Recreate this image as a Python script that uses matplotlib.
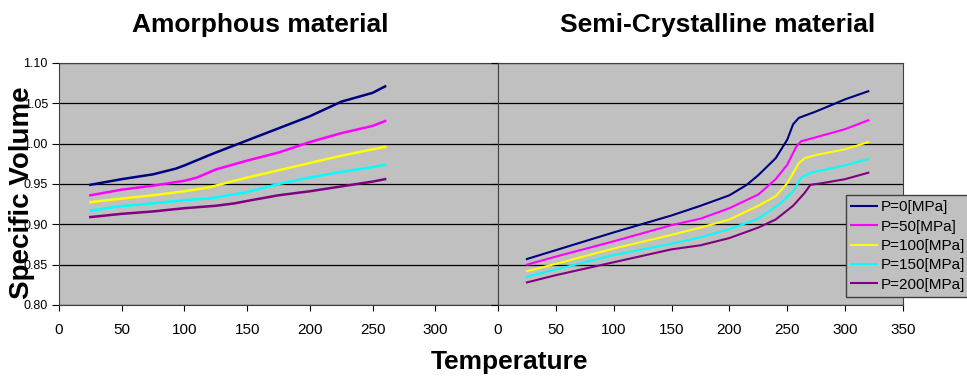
import matplotlib
matplotlib.use('Agg')
import matplotlib.pyplot as plt

plt.rcParams['font.family'] = ['Liberation Sans', 'DejaVu Sans']

labels = ['P=0[MPa]', 'P=50[MPa]', 'P=100[MPa]', 'P=150[MPa]', 'P=200[MPa]']
colors = ['#000080', '#FF00FF', '#FFFF00', '#00FFFF', '#800080']

# amorphous material
amo_t = [
    [25, 50, 75, 93, 100, 117, 125, 150, 175, 200, 225, 250, 260],
    [25, 50, 75, 100, 110, 125, 150, 175, 200, 225, 250, 260],
    [25, 50, 75, 100, 120, 150, 175, 200, 225, 250, 260],
    [25, 50, 75, 100, 120, 150, 175, 200, 225, 250, 260],
    [25, 50, 75, 100, 125, 140, 150, 175, 200, 225, 250, 260],
]
amo_v = [
    [0.949, 0.956, 0.962, 0.969, 0.973, 0.984, 0.989, 1.004, 1.019, 1.034, 1.052, 1.063, 1.071],
    [0.936, 0.943, 0.948, 0.954, 0.958, 0.968, 0.979, 0.989, 1.002, 1.013, 1.022, 1.028],
    [0.9275, 0.932, 0.936, 0.941, 0.946, 0.958, 0.967, 0.976, 0.985, 0.993, 0.996],
    [0.917, 0.9226, 0.926, 0.930, 0.932, 0.940, 0.950, 0.958, 0.965, 0.971, 0.974],
    [0.909, 0.913, 0.916, 0.920, 0.923, 0.926, 0.929, 0.936, 0.941, 0.947, 0.953, 0.956],
]

# semi-crystalline material
sc_t = [
    [25, 50, 100, 150, 175, 200, 215, 225, 240, 250, 255, 260, 275, 300, 320],
    [25, 50, 100, 150, 175, 200, 225, 240, 250, 258, 262, 275, 300, 320],
    [25, 50, 100, 150, 175, 200, 225, 240, 250, 260, 265, 275, 300, 320],
    [25, 50, 100, 150, 175, 200, 225, 245, 255, 262, 270, 300, 320],
    [25, 50, 100, 150, 175, 200, 225, 240, 255, 265, 270, 280, 300, 320],
]
sc_v = [
    [0.857, 0.868, 0.890, 0.911, 0.923, 0.936, 0.949, 0.961, 0.982, 1.005, 1.024, 1.032, 1.040, 1.055, 1.065],
    [0.850, 0.860, 0.879, 0.899, 0.907, 0.920, 0.937, 0.956, 0.974, 0.997, 1.003, 1.008, 1.018, 1.029],
    [0.842, 0.851, 0.870, 0.887, 0.896, 0.906, 0.923, 0.935, 0.951, 0.976, 0.982, 0.986, 0.993, 1.002],
    [0.835, 0.844, 0.862, 0.876, 0.884, 0.894, 0.907, 0.927, 0.941, 0.958, 0.964, 0.973, 0.981],
    [0.828, 0.837, 0.853, 0.869, 0.874, 0.883, 0.896, 0.906, 0.923, 0.939, 0.949, 0.951, 0.956, 0.964],
]

yticks = [0.80, 0.85, 0.90, 0.95, 1.00, 1.05, 1.10]

fig = plt.figure(figsize=(9.67, 3.76), dpi=100)
W, H = 967, 376
ax1 = fig.add_axes([59 / W, 1 - 305 / H, (498 - 59) / W, (305 - 63) / H])
ax2 = fig.add_axes([498 / W, 1 - 305 / H, (903 - 498) / W, (305 - 63) / H])

for ax in (ax1, ax2):
    ax.set_facecolor('#C0C0C0')
    ax.set_xlim(0, 350)
    ax.set_ylim(0.80, 1.10)
    ax.set_yticks(yticks)
    ax.grid(axis='y', color='black', linewidth=0.9)
    ax.set_axisbelow(True)
    for s in ax.spines.values():
        s.set_color('#404040')
    ax.tick_params(axis='x', labelsize=11, length=4, pad=9)
    ax.tick_params(axis='y', labelsize=9, length=5, pad=3)

ax1.set_xticks(range(0, 301, 50))
ax1.set_yticklabels(['%.2f' % v for v in yticks])
ax2.set_xticks(range(0, 351, 50))
ax2.set_yticklabels([])

for t, v, c in zip(amo_t, amo_v, colors):
    ax1.plot(t, v, color=c, linewidth=1.8)
lines = []
for t, v, c, lab in zip(sc_t, sc_v, colors, labels):
    ln, = ax2.plot(t, v, color=c, linewidth=1.5, label=lab)
    lines.append(ln)

fig.text(260 / W, 1 - 25 / H, 'Amorphous material', ha='center', va='center',
         fontsize=19, fontweight='bold')
fig.text(718 / W, 1 - 25 / H, 'Semi-Crystalline material', ha='center', va='center',
         fontsize=19, fontweight='bold')
fig.text(509 / W, 1 - 362 / H, 'Temperature', ha='center', va='center',
         fontsize=19, fontweight='bold')
fig.text(22 / W, 1 - 193 / H, 'Specific Volume', ha='center', va='center',
         rotation=90, fontsize=20, fontweight='bold')

leg = fig.legend(handles=lines, loc='upper left', bbox_to_anchor=(846 / W, 1 - 195 / H),
                 bbox_transform=fig.transFigure, fontsize=11, fancybox=False,
                 framealpha=1, facecolor='#C0C0C0', edgecolor='#404040',
                 handlelength=1.7, labelspacing=0.35, borderpad=0.35, handletextpad=0.25,
                 borderaxespad=0)
leg.get_frame().set_linewidth(1)

fig.savefig('out.png', dpi=100)
